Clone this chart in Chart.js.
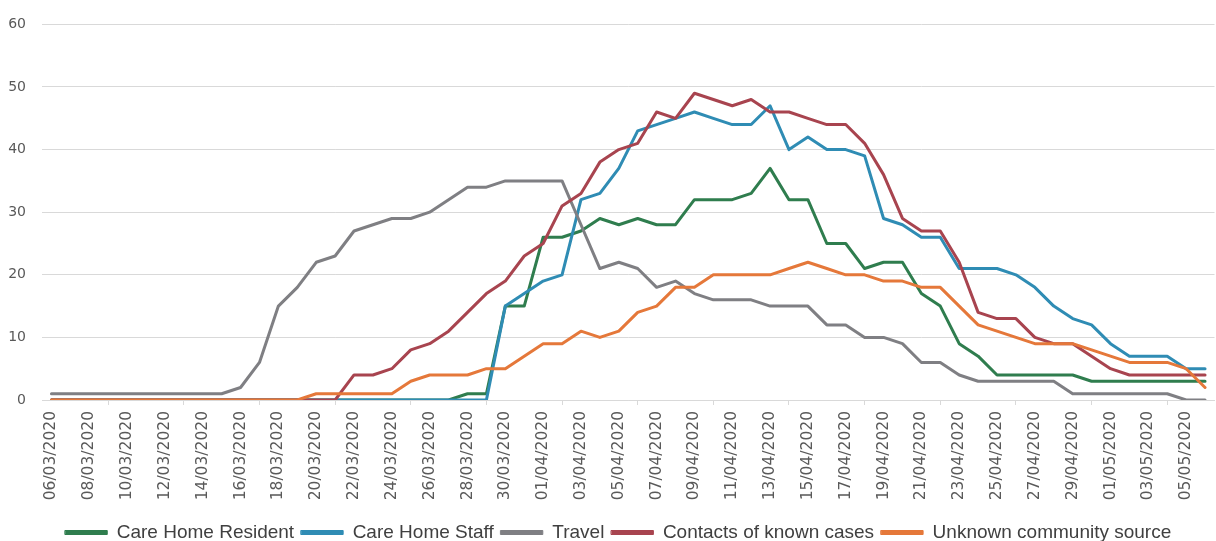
<!DOCTYPE html>
<html>
<head>
<meta charset="utf-8">
<script src="https://cdn.jsdelivr.net/npm/chart.js@4.4.1/dist/chart.umd.min.js"></script>
<style>
  html, body { margin: 0; padding: 0; background: #ffffff; }
  #wrap { width: 1216px; height: 541px; }
</style>
</head>
<body>
<div id="wrap"><canvas id="c" width="1216" height="541"></canvas></div>
<script>
const dates = [
  "06/03/2020","07/03/2020","08/03/2020","09/03/2020","10/03/2020","11/03/2020","12/03/2020","13/03/2020",
  "14/03/2020","15/03/2020","16/03/2020","17/03/2020","18/03/2020","19/03/2020","20/03/2020","21/03/2020",
  "22/03/2020","23/03/2020","24/03/2020","25/03/2020","26/03/2020","27/03/2020","28/03/2020","29/03/2020",
  "30/03/2020","31/03/2020","01/04/2020","02/04/2020","03/04/2020","04/04/2020","05/04/2020","06/04/2020",
  "07/04/2020","08/04/2020","09/04/2020","10/04/2020","11/04/2020","12/04/2020","13/04/2020","14/04/2020",
  "15/04/2020","16/04/2020","17/04/2020","18/04/2020","19/04/2020","20/04/2020","21/04/2020","22/04/2020",
  "23/04/2020","24/04/2020","25/04/2020","26/04/2020","27/04/2020","28/04/2020","29/04/2020","30/04/2020",
  "01/05/2020","02/05/2020","03/05/2020","04/05/2020","05/05/2020","06/05/2020"
];

const careHomeResident = [
  0,0,0,0,0,0,0,0,0,0, 0,0,0,0,0,0,0,0,0,0,
  0,0,1,1,15,15,26,26,27,29, 28,29,28,28,32,32,32,33,37,32,
  32,25,25,21,22,22,17,15,9,7, 4,4,4,4,4,3,3,3,3,3,
  3,3
];
const careHomeStaff = [
  0,0,0,0,0,0,0,0,0,0, 0,0,0,0,0,0,0,0,0,0,
  0,0,0,0,15,17,19,20,32,33, 37,43,44,45,46,45,44,44,47,40,
  42,40,40,39,29,28,26,26,21,21, 21,20,18,15,13,12,9,7,7,7,
  5,5
];
const travel = [
  1,1,1,1,1,1,1,1,1,1, 2,6,15,18,22,23,27,28,29,29,
  30,32,34,34,35,35,35,35,28,21, 22,21,18,19,17,16,16,16,15,15,
  15,12,12,10,10,9,6,6,4,3, 3,3,3,3,1,1,1,1,1,1,
  0,0
];
const contactsOfKnownCases = [
  0,0,0,0,0,0,0,0,0,0, 0,0,0,0,0,0,4,4,5,8,
  9,11,14,17,19,23,25,31,33,38, 40,41,46,45,49,48,47,48,46,46,
  45,44,44,41,36,29,27,27,22,14, 13,13,10,9,9,7,5,4,4,4,
  4,4
];
const unknownCommunitySource = [
  0,0,0,0,0,0,0,0,0,0, 0,0,0,0,1,1,1,1,1,3,
  4,4,4,5,5,7,9,9,11,10, 11,14,15,18,18,20,20,20,20,21,
  22,21,20,20,19,19,18,18,15,12, 11,10,9,9,9,8,7,6,6,6,
  5,2
];

const seriesNames = ["Care Home Resident","Care Home Staff","Travel","Contacts of known cases","Unknown community source"];
const seriesColors = ["#2f7d4e","#2f8cb4","#7f7f83","#a8444f","#e5783a"];
const seriesValues = [careHomeResident, careHomeStaff, travel, contactsOfKnownCases, unknownCommunitySource];

const datasets = seriesValues.map((vals, k) => ({
  label: seriesNames[k],
  data: vals,
  borderColor: seriesColors[k],
  backgroundColor: seriesColors[k],
  borderWidth: 3,
  pointRadius: 0,
  pointHoverRadius: 0,
  tension: 0,
  borderJoinStyle: 'round',
  borderCapStyle: 'round',
  order: seriesValues.length - k
}));

// shift the legend box slightly (reference legend is not centred on the canvas)
const legendShift = {
  id: 'legendShift',
  afterLayout(chart) {
    const lg = chart.legend;
    if (!lg) return;
    lg.left += 11; lg.right += 11;
    lg.top += 2; lg.bottom += 2;
  }
};

new Chart(document.getElementById('c'), {
  type: 'line',
  data: { labels: dates, datasets: datasets },
  plugins: [legendShift],
  options: {
    responsive: false,
    devicePixelRatio: 1,
    animation: false,
    layout: { padding: { left: 0, right: 1.5, top: 24, bottom: -9 } },
    plugins: {
      tooltip: { enabled: false },
      legend: {
        position: 'bottom',
        labels: {
          boxWidth: 42,
          boxHeight: 4,
          padding: 7,
          color: '#404040',
          font: { family: 'Liberation Sans', size: 19 },
          sort: (a, b) => a.datasetIndex - b.datasetIndex,
          generateLabels: (chart) => {
            const items = Chart.defaults.plugins.legend.labels.generateLabels(chart);
            items.forEach(it => { it.lineWidth = 1; it.fillStyle = it.strokeStyle; });
            return items;
          }
        }
      }
    },
    scales: {
      x: {
        type: 'category',
        offset: true,
        afterFit: (scale) => { scale.height = 114; },
        grid: {
          offset: true,
          drawOnChartArea: false,
          drawTicks: true,
          tickLength: 5,
          color: (ctx) => (ctx.index % 2 === 0 ? '#d9d9d9' : 'rgba(0,0,0,0)')
        },
        border: { display: true, color: '#d9d9d9', width: 1 },
        ticks: {
          autoSkip: false,
          maxRotation: 90,
          minRotation: 90,
          padding: 6,
          color: '#595959',
          font: { family: 'DejaVu Sans', size: 15.5 },
          callback: function(value, index) {
            return index % 2 === 0 ? this.getLabelForValue(value) : null;
          }
        }
      },
      y: {
        min: 0,
        max: 60,
        afterFit: (scale) => { scale.width = 42; },
        grid: { color: '#d9d9d9', lineWidth: 1, drawTicks: false },
        border: { display: false },
        ticks: {
          stepSize: 10,
          padding: 16,
          color: '#595959',
          font: { family: 'DejaVu Sans', size: 14 }
        }
      }
    }
  }
});
</script>
</body>
</html>
